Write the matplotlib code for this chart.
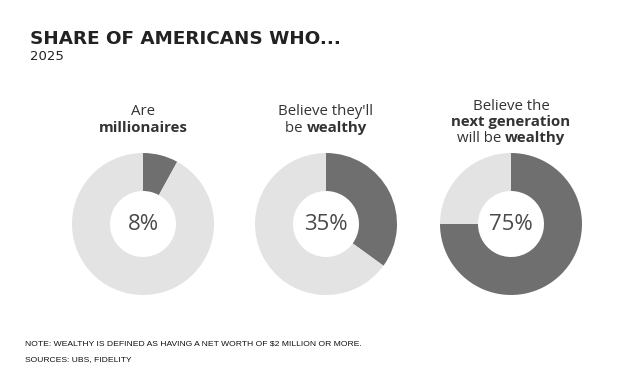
import matplotlib
matplotlib.use("Agg")
import matplotlib.pyplot as plt

# data
shares = [8, 35, 75]
pct_labels = ["8%", "35%", "75%"]
# each label: list of lines, each line a list of (text, bold) pieces
captions = [
    [[("Are", False)], [("millionaires", True)]],
    [[("Believe they'll", False)], [("be ", False), ("wealthy", True)]],
    [[("Believe the", False)], [("next generation", True)],
     [("will be ", False), ("wealthy", True)]],
]
title = "SHARE OF AMERICANS WHO..."
subtitle = "2025"
note = "NOTE: WEALTHY IS DEFINED AS HAVING A NET WORTH OF $2 MILLION OR MORE."
sources = "SOURCES: UBS, FIDELITY"

W, H = 631, 386
dark = "#6f6f6f"
light = "#e3e3e3"
txt = "#333333"

fig = plt.figure(figsize=(W / 100, H / 100), dpi=100)
ax = fig.add_axes([0, 0, 1, 1])

centers_x = [143, 326, 511]
cy = H - 224
radius = 71
ring = 38

for cx, v, lab in zip(centers_x, shares, pct_labels):
    ax.pie([v, 100 - v], colors=[dark, light], startangle=90, counterclock=False,
           center=(cx, cy), radius=radius, frame=True,
           wedgeprops=dict(width=ring, linewidth=0))
    ax.text(cx, cy, lab, ha="center", va="center", fontsize=16,
            color="#4a4a4a", family="Open Sans")

ax.set_xlim(0, W)
ax.set_ylim(0, H)
ax.set_aspect("equal")
ax.axis("off")

fig.canvas.draw()
renderer = fig.canvas.get_renderer()
inv = ax.transData.inverted()


def draw_line(cx, y, pieces, size=10.8):
    # draw pieces on a shared baseline, then shift so the line is centred
    objs = []
    x = 0
    for s, bold in pieces:
        t = ax.text(x, y, s, ha="left", va="baseline", fontsize=size, color=txt,
                    family="Open Sans", fontweight="bold" if bold else "normal")
        bb = t.get_window_extent(renderer)
        w = inv.transform((bb.width, 0))[0] - inv.transform((0, 0))[0]
        objs.append((t, x))
        x += w
    start = cx - x / 2
    for t, off in objs:
        t.set_x(start + off)


# baselines of caption lines (pixels from top)
line_ys = {2: [115, 132], 3: [110, 126, 142]}
for cx, cap in zip(centers_x, captions):
    ys = line_ys[len(cap)]
    for y, pieces in zip(ys, cap):
        draw_line(cx, H - y, pieces)

ax.text(30, H - 39, title, ha="left", va="center", fontsize=13.2,
        fontweight="bold", color="#222222", family="DejaVu Sans")
ax.text(30, H - 57, subtitle, ha="left", va="center", fontsize=9.5,
        color="#222222", family="DejaVu Sans")
ax.text(25, H - 344, note, ha="left", va="center", fontsize=6.1,
        color="#111111", family="Liberation Sans")
ax.text(25, H - 360, sources, ha="left", va="center", fontsize=6.1,
        color="#111111", family="Liberation Sans")

fig.savefig("out.png", dpi=100, facecolor="white")
